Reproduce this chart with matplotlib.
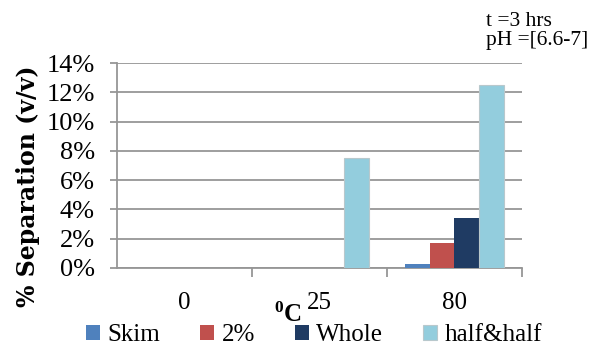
import matplotlib.pyplot as plt
import numpy as np

plt.rcParams['font.family'] = ['Liberation Serif', 'DejaVu Serif']
plt.rcParams['mathtext.fontset'] = 'custom'
plt.rcParams['mathtext.rm'] = 'Liberation Serif'
plt.rcParams['mathtext.bf'] = 'Liberation Serif:bold'

temps = ['0', '25', '80']
series = ['Skim', '2%', 'Whole', 'half&half']
skim = [0.0, 0.0, 0.3]
two_pct = [0.0, 0.0, 1.7]
whole = [0.0, 0.0, 3.4]
half_half = [0.0, 7.5, 12.5]
colors = ['#4F81BD', '#C0504D', '#1F3B63', '#93CDDD']

fig = plt.figure(figsize=(5.97, 3.49), dpi=100)
ax = fig.add_axes([117/597, 1 - 268/349, 405/597, 205/349])

x = np.arange(len(temps))
w = 0.185
for i, (name, vals) in enumerate(zip(series, [skim, two_pct, whole, half_half])):
    ec = '#B8C8CC' if name == 'half&half' else 'none'
    ax.bar(x + (i - 1.5) * w, vals, w, color=colors[i], label=name,
           edgecolor=ec, linewidth=0.8, zorder=3)

ax.set_xlim(-0.5, 2.5)
ax.set_ylim(0, 14)
ax.set_yticks(np.arange(0, 15, 2))
ax.set_yticklabels(['%d%%' % v for v in range(0, 15, 2)])
ax.set_xticks(x)
ax.set_xticklabels(temps)
ax.set_xticks([0.5, 1.5, 2.5], minor=True)

ax.grid(axis='y', color='#969696', linewidth=1.3, zorder=0)
for s in ['top', 'right']:
    ax.spines[s].set_visible(False)
for s in ['left', 'bottom']:
    ax.spines[s].set_color('#969696')
    ax.spines[s].set_linewidth(1.3)

ax.tick_params(axis='y', length=5, width=1.3, color='#969696', labelsize=19, pad=11)
ax.tick_params(axis='x', which='major', length=0, labelsize=18, pad=17)
ax.tick_params(axis='x', which='minor', length=6.5, width=1.3, color='#969696')

ax.set_ylabel('% Separation (v/v)', fontsize=17, fontweight='bold',
              family=['DejaVu Serif'])
ax.yaxis.set_label_coords(-0.19, 0.40)
# degree label sits just left of the middle category
fig.text(288/597, 1 - 315/349, r'$\mathbf{^{0}C}$', fontsize=18,
         ha='center', va='center')

ax.legend(loc='center', bbox_to_anchor=(314/597, 1 - 335/349),
          bbox_transform=fig.transFigure, ncol=4, frameon=False,
          fontsize=18, handlelength=0.55, handleheight=0.55, handletextpad=0.3,
          columnspacing=1.6, borderaxespad=0, borderpad=0)

fig.text(486/597, 1 - 31/349, 't =3 hrs\npH =[6.6-7]', fontsize=15.5,
         va='center', ha='left', linespacing=1.0)

fig.savefig('out.png', dpi=100)
